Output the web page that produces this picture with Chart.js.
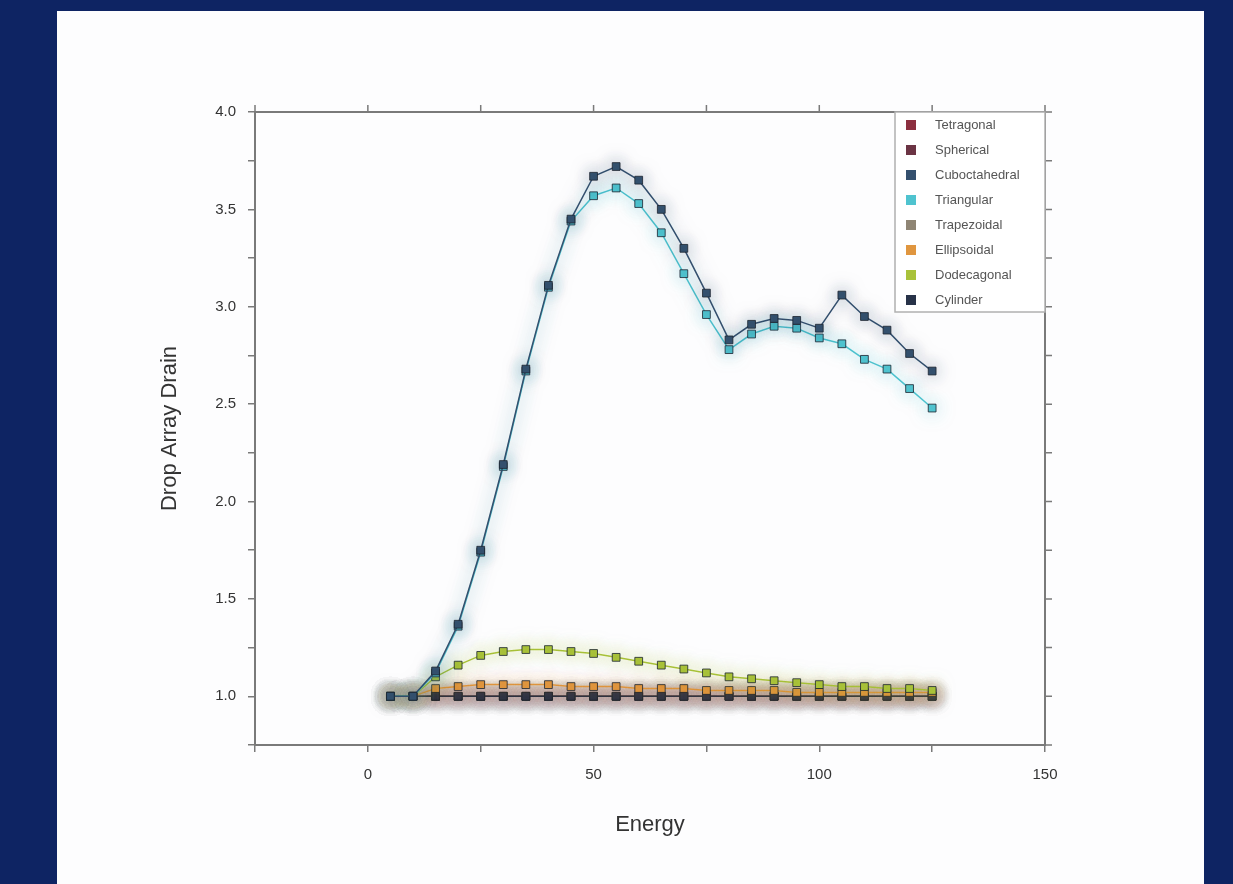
<!DOCTYPE html>
<html lang="en">
<head>
<meta charset="UTF-8">
<title>Drop Array Drain vs Energy</title>
<script src="https://cdn.jsdelivr.net/npm/chart.js"></script>
<style>
  html, body { margin: 0; padding: 0; }
  body { width: 1233px; height: 884px; background: #0e2463; position: relative; overflow: hidden; }
  #panel { position: absolute; left: 57px; top: 11px; width: 1147px; height: 873px; background: #fdfdfe; }
  canvas { display: block; }
</style>
</head>
<body>
<div id="panel"><canvas id="chart" width="1147" height="873"></canvas></div>
<script>
// values
const energy = [5, 10, 15, 20, 25, 30, 35, 40, 45, 50, 55, 60, 65, 70, 75, 80, 85, 90, 95, 100, 105, 110, 115, 120, 125];

const seriesNames = ['Tetragonal', 'Spherical', 'Cuboctahedral', 'Triangular', 'Trapezoidal', 'Ellipsoidal', 'Dodecagonal', 'Cylinder'];
const seriesColors = ['#8c2f3f', '#6b3444', '#34506e', '#4fc3cf', '#8f8574', '#e0963f', '#a9c23a', '#283248'];

const flatValues = [1, 1, 1, 1, 1, 1, 1, 1, 1, 1, 1, 1, 1, 1, 1, 1, 1, 1, 1, 1, 1, 1, 1, 1, 1];
const upperValues = [1.0, 1.0, 1.13, 1.37, 1.75, 2.19, 2.68, 3.11, 3.45, 3.67, 3.72, 3.65, 3.50, 3.30, 3.07, 2.83, 2.91, 2.94, 2.93, 2.89, 3.06, 2.95, 2.88, 2.76, 2.67];
const lowerValues = [1.0, 1.0, 1.12, 1.36, 1.74, 2.18, 2.67, 3.10, 3.44, 3.57, 3.61, 3.53, 3.38, 3.17, 2.96, 2.78, 2.86, 2.90, 2.89, 2.84, 2.81, 2.73, 2.68, 2.58, 2.48];
const orangeValues = [1.0, 1.0, 1.04, 1.05, 1.06, 1.06, 1.06, 1.06, 1.05, 1.05, 1.05, 1.04, 1.04, 1.04, 1.03, 1.03, 1.03, 1.03, 1.02, 1.02, 1.02, 1.02, 1.02, 1.02, 1.02];
const bumpValues = [1.0, 1.0, 1.10, 1.16, 1.21, 1.23, 1.24, 1.24, 1.23, 1.22, 1.20, 1.18, 1.16, 1.14, 1.12, 1.10, 1.09, 1.08, 1.07, 1.06, 1.05, 1.05, 1.04, 1.04, 1.03];

const seriesValues = [flatValues, flatValues, upperValues, lowerValues, flatValues, orangeValues, bumpValues, flatValues];

const xTicks = [0, 50, 100, 150];
const yTicks = [1.0, 1.5, 2.0, 2.5, 3.0, 3.5, 4.0];

// draw order: flat ones first, curves last
const drawOrder = [0, 1, 4, 7, 5, 6, 3, 2];

function hexToRgba(hex, a) {
    const n = parseInt(hex.slice(1), 16);
    return 'rgba(' + (n >> 16) + ',' + ((n >> 8) & 255) + ',' + (n & 255) + ',' + a + ')';
}

const datasets = seriesNames.map(function(name, i) {
    return {
        label: name,
        data: energy.map(function(e, k) { return { x: e, y: seriesValues[i][k] }; }),
        borderColor: seriesColors[i],
        backgroundColor: seriesColors[i],
        pointBackgroundColor: seriesColors[i],
        pointBorderColor: hexToRgba('#1c2430', 0.8),
        pointBorderWidth: 1,
        pointStyle: 'rect',
        pointRadius: 5.5,
        borderWidth: 1.5,
        showLine: true,
        fill: false,
        order: 10 - drawOrder.indexOf(i)
    };
});

// soft halo round each line, like the reference
const glowPlugin = {
    id: 'glow',
    beforeDatasetDraw(chart, args) {
        const ds = chart.data.datasets[args.index];
        chart.ctx.save();
        chart.ctx.shadowColor = hexToRgba(ds.borderColor, 0.6);
        chart.ctx.shadowBlur = 18;
    },
    afterDatasetDraw(chart) {
        chart.ctx.restore();
    }
};

// box round the plot, mirrored ticks, legend inside the top right corner
const framePlugin = {
    id: 'frame',
    afterDatasetsDraw(chart) {
        const ctx = chart.ctx;
        const a = chart.chartArea;
        const xs = chart.scales.x, ys = chart.scales.y;
        ctx.save();
        ctx.strokeStyle = '#7a7a7a';
        ctx.lineWidth = 2;
        ctx.strokeRect(a.left, a.top, a.right - a.left, a.bottom - a.top);
        ctx.lineWidth = 1.5;
        ctx.beginPath();
        xs.ticks.forEach(function(t) {
            const px = xs.getPixelForValue(t.value);
            ctx.moveTo(px, a.top); ctx.lineTo(px, a.top - 7);
        });
        ys.ticks.forEach(function(t) {
            const py = ys.getPixelForValue(t.value);
            ctx.moveTo(a.right, py); ctx.lineTo(a.right + 7, py);
        });
        ctx.stroke();

        // legend
        const lx = a.right - 150, ly = a.top, lw = 150, lh = 200;
        ctx.fillStyle = '#ffffff';
        ctx.fillRect(lx, ly, lw, lh);
        ctx.strokeStyle = '#b0b0b0';
        ctx.lineWidth = 1.5;
        ctx.strokeRect(lx, ly, lw, lh);
        ctx.font = '13px "Liberation Sans", Arial, sans-serif';
        ctx.textBaseline = 'middle';
        seriesNames.forEach(function(name, i) {
            const cy = ly + 13 + i * 25;
            ctx.fillStyle = seriesColors[i];
            ctx.fillRect(lx + 11, cy - 5, 10, 10);
            ctx.fillStyle = '#555';
            ctx.fillText(name, lx + 40, cy);
        });
        ctx.restore();
    }
};

const ctx = document.getElementById('chart').getContext('2d');
const chart = new Chart(ctx, {
    type: 'scatter',
    data: { datasets: datasets },
    plugins: [glowPlugin, framePlugin],
    options: {
        responsive: false,
        animation: false,
        layout: { padding: { top: 101, right: 159, left: 0, bottom: 0 } },
        plugins: {
            legend: { display: false },
            tooltip: { enabled: false }
        },
        scales: {
            x: {
                type: 'linear',
                min: -25,
                max: 150,
                afterFit: function(s) { s.height = 139; },
                afterBuildTicks: function(s) {
                    s.ticks = [-25, 0, 25, 50, 75, 100, 125, 150].map(function(v) { return { value: v }; });
                },
                ticks: {
                    autoSkip: false,
                    maxRotation: 0,
                    padding: 14,
                    color: '#333',
                    font: { family: '"Liberation Sans", Arial, sans-serif', size: 15 },
                    callback: function(v) { return xTicks.indexOf(v) >= 0 ? String(v) : ''; }
                },
                grid: { drawOnChartArea: false, drawTicks: true, tickLength: 7, color: '#7a7a7a', lineWidth: 1.5 },
                border: { display: true, color: '#7a7a7a', width: 2 },
                title: {
                    display: true,
                    text: 'Energy',
                    color: '#333',
                    font: { family: '"Liberation Sans", Arial, sans-serif', size: 22 },
                    padding: { top: 0, bottom: 46 }
                }
            },
            y: {
                type: 'linear',
                min: 0.75,
                max: 4.0,
                afterFit: function(s) { s.width = 198; },
                afterBuildTicks: function(s) {
                    const t = [];
                    for (let v = 0.75; v <= 4.0001; v += 0.25) t.push({ value: Math.round(v * 100) / 100 });
                    s.ticks = t;
                },
                ticks: {
                    autoSkip: false,
                    padding: 12,
                    color: '#333',
                    font: { family: '"Liberation Sans", Arial, sans-serif', size: 15 },
                    callback: function(v) {
                        return yTicks.some(function(t) { return Math.abs(t - v) < 1e-6; }) ? v.toFixed(1) : '';
                    }
                },
                grid: { drawOnChartArea: false, drawTicks: true, tickLength: 7, color: '#7a7a7a', lineWidth: 1.5 },
                border: { display: true, color: '#7a7a7a', width: 2 },
                title: {
                    display: true,
                    text: 'Drop Array Drain',
                    color: '#333',
                    font: { family: '"Liberation Sans", Arial, sans-serif', size: 22 },
                    padding: { top: 100, bottom: 0 }
                }
            }
        }
    }
});
</script>
</body>
</html>
